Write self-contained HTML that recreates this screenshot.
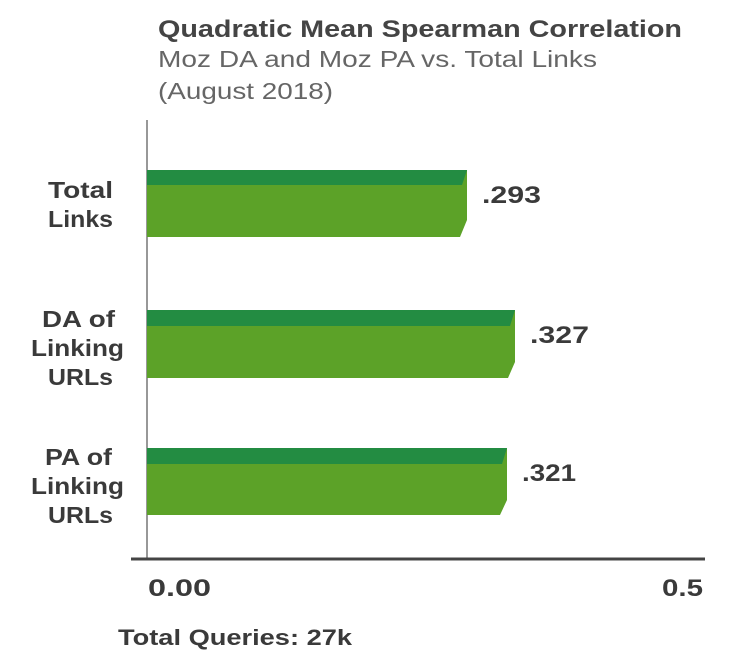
<!DOCTYPE html>
<html><head><style>
body{margin:0;background:#fff;width:738px;height:668px;overflow:hidden}
svg{display:block}
text{font-family:"Liberation Sans",sans-serif;fill:#3a3a3a}
</style></head><body>
<svg width="738" height="668" viewBox="0 0 738 668">
<text x="158" y="37" font-size="24" font-weight="bold" style="fill:#444" textLength="524" lengthAdjust="spacingAndGlyphs">Quadratic Mean Spearman Correlation</text>
<text x="158" y="67" font-size="23" style="fill:#666" textLength="439" lengthAdjust="spacingAndGlyphs">Moz DA and Moz PA vs. Total Links</text>
<text x="158" y="99" font-size="23" style="fill:#666" textLength="175" lengthAdjust="spacingAndGlyphs">(August 2018)</text>
<line x1="147" y1="120" x2="147" y2="558" stroke="#777" stroke-width="1.5"/>
<line x1="131" y1="559" x2="705" y2="559" stroke="#444" stroke-width="3"/>
<polygon points="147,170 467,170 467,220 460,237 147,237" fill="#5ca228"/>
<polygon points="147,170 467,170 462,185 147,185" fill="#238c42"/>
<polygon points="147,310 515,310 515,362 508,378 147,378" fill="#5ca228"/>
<polygon points="147,310 515,310 510,326 147,326" fill="#238c42"/>
<polygon points="147,448 507,448 507,500 500,515 147,515" fill="#5ca228"/>
<polygon points="147,448 507,448 502,464 147,464" fill="#238c42"/>
<g font-size="23" font-weight="bold">
<text x="48" y="198" textLength="65" lengthAdjust="spacingAndGlyphs">Total</text><text x="48" y="227" textLength="65" lengthAdjust="spacingAndGlyphs">Links</text>
<text x="42" y="327" textLength="73" lengthAdjust="spacingAndGlyphs">DA of</text><text x="31" y="356" textLength="93" lengthAdjust="spacingAndGlyphs">Linking</text><text x="48" y="385" textLength="65" lengthAdjust="spacingAndGlyphs">URLs</text>
<text x="45" y="465" textLength="67" lengthAdjust="spacingAndGlyphs">PA of</text><text x="31" y="494" textLength="93" lengthAdjust="spacingAndGlyphs">Linking</text><text x="48" y="523" textLength="65" lengthAdjust="spacingAndGlyphs">URLs</text>
</g>
<g font-size="24" font-weight="bold">
<text x="482" y="203" textLength="59" lengthAdjust="spacingAndGlyphs">.293</text>
<text x="530" y="343" textLength="59" lengthAdjust="spacingAndGlyphs">.327</text>
<text x="522" y="481" textLength="54" lengthAdjust="spacingAndGlyphs">.321</text>
<text x="148" y="596" textLength="63" lengthAdjust="spacingAndGlyphs">0.00</text>
<text x="662" y="596" textLength="41" lengthAdjust="spacingAndGlyphs">0.5</text>
</g>
<text x="118" y="645" font-size="22" font-weight="bold" textLength="234" lengthAdjust="spacingAndGlyphs">Total Queries: 27k</text>
</svg>
</body></html>
